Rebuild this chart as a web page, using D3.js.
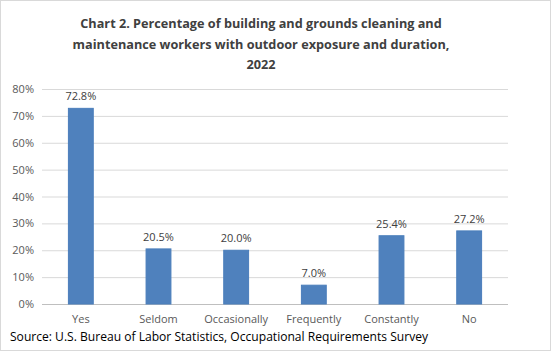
<!DOCTYPE html>
<html lang="en">
  <head>
    <meta charset="UTF-8" />
    <title>outdoor exposure chart</title>
    <style type="text/css">
      html,
      body {
        margin: 0;
        padding: 0;
        background: #fff;
      }
      svg {
        display: block;
        font-family: "Open Sans", "Noto Sans", sans-serif;
      }
    </style>
  </head>
  <body>
    <div id="chart"></div>
    <script src="https://cdn.jsdelivr.net/npm/d3@7"></script>
    <script>
      // === Data === //

      var categories = ["Yes", "Seldom", "Occasionally", "Frequently", "Constantly", "No"];
      var values = [72.8, 20.5, 20.0, 7.0, 25.4, 27.2];
      var yTicks = [0, 10, 20, 30, 40, 50, 60, 70, 80];
      var titleLines = [
        "Chart 2. Percentage of building and grounds cleaning and",
        "maintenance workers with outdoor exposure and duration,",
        "2022"
      ];
      var source = "Source: U.S. Bureau of Labor Statistics, Occupational Requirements Survey";

      // === Layout === //

      var width = 551,
        height = 351;
      var plot = { left: 42, right: 508, top: 89, bottom: 304 };

      var svg = d3
        .select("#chart")
        .append("svg")
        .attr("width", width)
        .attr("height", height);

      // outer frame
      svg
        .append("rect")
        .attr("x", 0.5)
        .attr("y", 0.5)
        .attr("width", width - 1)
        .attr("height", height - 1)
        .attr("fill", "#fff")
        .attr("stroke", "#d9d9d9");

      var x = d3
        .scaleBand()
        .domain(categories)
        .range([plot.left, plot.right])
        .paddingInner(0.68)
        .paddingOuter(0.34);

      var y = d3
        .scaleLinear()
        .domain([0, 80])
        .range([plot.bottom, plot.top]);

      // === Title === //

      svg
        .append("g")
        .selectAll("text")
        .data(titleLines)
        .enter()
        .append("text")
        .attr("x", 261)
        .attr("y", function(d, i) {
          return 28 + i * 20.5;
        })
        .attr("text-anchor", "middle")
        .attr("font-size", "12.7px")
        .attr("font-weight", "bold")
        .attr("fill", "#404040")
        .text(function(d) {
          return d;
        });

      // === Gridlines + y axis === //

      var yAxis = svg
        .append("g")
        .attr("transform", "translate(" + plot.left + ",0)")
        .call(
          d3
            .axisLeft(y)
            .tickValues(yTicks)
            .tickSize(-(plot.right - plot.left))
            .tickPadding(8)
            .tickFormat(function(d) {
              return d + "%";
            })
        );
      yAxis.select(".domain").remove();
      yAxis
        .selectAll(".tick line")
        .attr("stroke", function(d) {
          return d === 0 ? "#bfbfbf" : "#d9d9d9";
        });
      yAxis
        .selectAll(".tick text")
        .attr("fill", "#595959")
        .attr("font-size", "11px")
        .attr("font-family", "'Open Sans', sans-serif");

      // === Bars === //

      svg
        .append("g")
        .selectAll("rect")
        .data(values)
        .enter()
        .append("rect")
        .attr("x", function(d, i) {
          return x(categories[i]);
        })
        .attr("y", function(d) {
          return y(d);
        })
        .attr("width", x.bandwidth())
        .attr("height", function(d) {
          return y(0) - y(d);
        })
        .attr("fill", "#4f81bd")
        .attr("stroke", "#4a7ebb")
        .attr("stroke-width", 1);

      // value labels
      svg
        .append("g")
        .selectAll("text")
        .data(values)
        .enter()
        .append("text")
        .attr("x", function(d, i) {
          return x(categories[i]) + x.bandwidth() / 2;
        })
        .attr("y", function(d) {
          return y(d) - 8;
        })
        .attr("text-anchor", "middle")
        .attr("font-size", "11px")
        .attr("fill", "#404040")
        .text(function(d) {
          return d.toFixed(1) + "%";
        });

      // === x axis === //

      var xAxis = svg
        .append("g")
        .attr("transform", "translate(0," + plot.bottom + ")")
        .call(d3.axisBottom(x).tickSize(0).tickPadding(11));
      xAxis.select(".domain").remove();
      xAxis
        .selectAll(".tick text")
        .attr("fill", "#595959")
        .attr("font-size", "11px")
        .attr("font-family", "'Open Sans', sans-serif");

      // === Source === //

      svg
        .append("text")
        .attr("x", 10)
        .attr("y", 341)
        .attr("font-size", "12.5px")
        .attr("fill", "#000")
        .attr("textLength", 418)
        .attr("lengthAdjust", "spacingAndGlyphs")
        .text(source);
    </script>
  </body>
</html>
